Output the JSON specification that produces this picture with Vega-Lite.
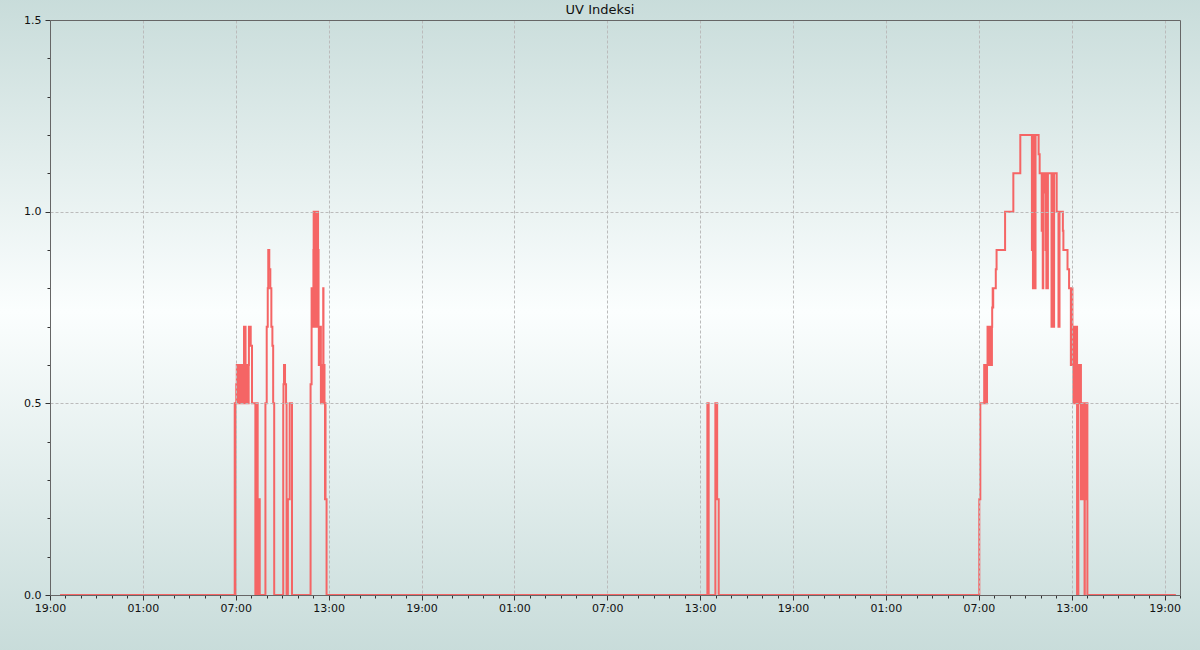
{
  "$schema": "https://vega.github.io/schema/vega-lite/v6.json",
  "width": 1130,
  "height": 575,
  "autosize": {"type": "none"},
  "padding": {"left": 50, "top": 20, "right": 20, "bottom": 55},
  "background": "#d9e6e5",
  "title": {"text": "UV Indeksi", "fontSize": 13, "font": "DejaVu Sans", "fontWeight": "normal", "color": "#111", "offset": -20, "dx": -15},
  "config": {
    "view": {"stroke": null},
    "axis": {"domain": true, "domainColor": "#666", "domainWidth": 1, "labelFont": "DejaVu Sans", "labelFontSize": 11, "labelColor": "#111", "tickColor": "#333", "gridColor": "#bbbbbb", "gridDash": [3, 2], "labelOverlap": false, "labelFlush": false}
  },
  "resolve": {"axis": {"x": "independent", "y": "independent"}},
  "layer": [
    {
      "data": {"values": [{"bg": 1}]},
      "mark": {"type": "rect", "clip": false, "fill": {"gradient": "linear", "x1": 0, "y1": 0, "x2": 0, "y2": 1, "stops": [{"offset": 0, "color": "#c8dcda"}, {"offset": 0.48, "color": "#fbfefe"}, {"offset": 1, "color": "#c8dcda"}]}},
      "encoding": {
        "x": {"datum": 1704123600000, "type": "temporal",
          "scale": {"type": "utc", "domain": [1704135600000, 1704398400000]},
          "axis": {"orient": "top", "title": null, "labels": false, "ticks": false, "grid": false, "zindex": 2}},
        "x2": {"datum": 1704403800000},
        "y": {"datum": 1.56, "type": "quantitative", "scale": {"domain": [0, 1.5], "nice": false, "zero": false},
          "axis": {"orient": "right", "title": null, "labels": false, "ticks": false, "grid": false, "zindex": 2}},
        "y2": {"datum": -0.15}
      }
    },
    {
      "data": {
        "format": {"parse": {"t": "utc:'%Y-%m-%d %H:%M'"}},
        "values": [
          {"t": "2024-01-01 19:39", "v": 0},
          {"t": "2024-01-02 06:56", "v": 0.5},
          {"t": "2024-01-02 06:58", "v": 0},
          {"t": "2024-01-02 06:59", "v": 0.5},
          {"t": "2024-01-02 07:02", "v": 0.55},
          {"t": "2024-01-02 07:03", "v": 0.5},
          {"t": "2024-01-02 07:04", "v": 0.6},
          {"t": "2024-01-02 07:05", "v": 0.5},
          {"t": "2024-01-02 07:06", "v": 0.55},
          {"t": "2024-01-02 07:07", "v": 0.6},
          {"t": "2024-01-02 07:08", "v": 0.5},
          {"t": "2024-01-02 07:10", "v": 0.6},
          {"t": "2024-01-02 07:11", "v": 0.5},
          {"t": "2024-01-02 07:13", "v": 0.6},
          {"t": "2024-01-02 07:14", "v": 0.5},
          {"t": "2024-01-02 07:16", "v": 0.6},
          {"t": "2024-01-02 07:17", "v": 0.5},
          {"t": "2024-01-02 07:19", "v": 0.6},
          {"t": "2024-01-02 07:20", "v": 0.5},
          {"t": "2024-01-02 07:22", "v": 0.6},
          {"t": "2024-01-02 07:25", "v": 0.5},
          {"t": "2024-01-02 07:26", "v": 0.6},
          {"t": "2024-01-02 07:28", "v": 0.5},
          {"t": "2024-01-02 07:29", "v": 0.6},
          {"t": "2024-01-02 07:31", "v": 0.5},
          {"t": "2024-01-02 07:32", "v": 0.7},
          {"t": "2024-01-02 07:38", "v": 0.6},
          {"t": "2024-01-02 07:39", "v": 0.5},
          {"t": "2024-01-02 07:41", "v": 0.6},
          {"t": "2024-01-02 07:42", "v": 0.5},
          {"t": "2024-01-02 07:44", "v": 0.6},
          {"t": "2024-01-02 07:45", "v": 0.5},
          {"t": "2024-01-02 07:47", "v": 0.6},
          {"t": "2024-01-02 07:48", "v": 0.5},
          {"t": "2024-01-02 07:50", "v": 0.6},
          {"t": "2024-01-02 07:51", "v": 0.7},
          {"t": "2024-01-02 07:58", "v": 0.65},
          {"t": "2024-01-02 08:03", "v": 0.5},
          {"t": "2024-01-02 08:16", "v": 0},
          {"t": "2024-01-02 08:18", "v": 0.5},
          {"t": "2024-01-02 08:19", "v": 0},
          {"t": "2024-01-02 08:21", "v": 0.5},
          {"t": "2024-01-02 08:22", "v": 0},
          {"t": "2024-01-02 08:24", "v": 0.5},
          {"t": "2024-01-02 08:25", "v": 0},
          {"t": "2024-01-02 08:29", "v": 0.25},
          {"t": "2024-01-02 08:33", "v": 0},
          {"t": "2024-01-02 08:55", "v": 0.5},
          {"t": "2024-01-02 09:00", "v": 0.7},
          {"t": "2024-01-02 09:04", "v": 0.8},
          {"t": "2024-01-02 09:06", "v": 0.9},
          {"t": "2024-01-02 09:10", "v": 0.85},
          {"t": "2024-01-02 09:14", "v": 0.8},
          {"t": "2024-01-02 09:18", "v": 0.7},
          {"t": "2024-01-02 09:22", "v": 0.65},
          {"t": "2024-01-02 09:25", "v": 0.5},
          {"t": "2024-01-02 09:29", "v": 0},
          {"t": "2024-01-02 10:04", "v": 0.5},
          {"t": "2024-01-02 10:05", "v": 0.55},
          {"t": "2024-01-02 10:07", "v": 0.6},
          {"t": "2024-01-02 10:11", "v": 0.55},
          {"t": "2024-01-02 10:15", "v": 0.5},
          {"t": "2024-01-02 10:17", "v": 0},
          {"t": "2024-01-02 10:22", "v": 0.25},
          {"t": "2024-01-02 10:29", "v": 0.5},
          {"t": "2024-01-02 10:38", "v": 0},
          {"t": "2024-01-02 11:50", "v": 0.55},
          {"t": "2024-01-02 11:54", "v": 0.8},
          {"t": "2024-01-02 11:55", "v": 0.7},
          {"t": "2024-01-02 11:56", "v": 0.8},
          {"t": "2024-01-02 11:57", "v": 0.7},
          {"t": "2024-01-02 11:58", "v": 0.8},
          {"t": "2024-01-02 11:59", "v": 0.7},
          {"t": "2024-01-02 12:00", "v": 0.8},
          {"t": "2024-01-02 12:01", "v": 0.9},
          {"t": "2024-01-02 12:02", "v": 1.0},
          {"t": "2024-01-02 12:03", "v": 0.7},
          {"t": "2024-01-02 12:04", "v": 1.0},
          {"t": "2024-01-02 12:05", "v": 0.8},
          {"t": "2024-01-02 12:06", "v": 1.0},
          {"t": "2024-01-02 12:07", "v": 0.7},
          {"t": "2024-01-02 12:08", "v": 1.0},
          {"t": "2024-01-02 12:09", "v": 0.9},
          {"t": "2024-01-02 12:10", "v": 1.0},
          {"t": "2024-01-02 12:11", "v": 0.7},
          {"t": "2024-01-02 12:12", "v": 1.0},
          {"t": "2024-01-02 12:13", "v": 0.8},
          {"t": "2024-01-02 12:14", "v": 1.0},
          {"t": "2024-01-02 12:15", "v": 0.7},
          {"t": "2024-01-02 12:16", "v": 1.0},
          {"t": "2024-01-02 12:17", "v": 0.9},
          {"t": "2024-01-02 12:18", "v": 1.0},
          {"t": "2024-01-02 12:19", "v": 0.9},
          {"t": "2024-01-02 12:21", "v": 0.7},
          {"t": "2024-01-02 12:22", "v": 0.6},
          {"t": "2024-01-02 12:23", "v": 0.7},
          {"t": "2024-01-02 12:24", "v": 0.6},
          {"t": "2024-01-02 12:25", "v": 0.7},
          {"t": "2024-01-02 12:26", "v": 0.6},
          {"t": "2024-01-02 12:27", "v": 0.7},
          {"t": "2024-01-02 12:28", "v": 0.6},
          {"t": "2024-01-02 12:29", "v": 0.7},
          {"t": "2024-01-02 12:30", "v": 0.5},
          {"t": "2024-01-02 12:31", "v": 0.6},
          {"t": "2024-01-02 12:32", "v": 0.5},
          {"t": "2024-01-02 12:33", "v": 0.6},
          {"t": "2024-01-02 12:34", "v": 0.5},
          {"t": "2024-01-02 12:35", "v": 0.6},
          {"t": "2024-01-02 12:36", "v": 0.5},
          {"t": "2024-01-02 12:37", "v": 0.6},
          {"t": "2024-01-02 12:39", "v": 0.8},
          {"t": "2024-01-02 12:40", "v": 0.5},
          {"t": "2024-01-02 12:41", "v": 0.6},
          {"t": "2024-01-02 12:42", "v": 0.5},
          {"t": "2024-01-02 12:43", "v": 0.6},
          {"t": "2024-01-02 12:44", "v": 0.5},
          {"t": "2024-01-02 12:46", "v": 0.25},
          {"t": "2024-01-02 12:47", "v": 0.5},
          {"t": "2024-01-02 12:48", "v": 0.25},
          {"t": "2024-01-02 12:52", "v": 0},
          {"t": "2024-01-03 13:28", "v": 0.5},
          {"t": "2024-01-03 13:33", "v": 0},
          {"t": "2024-01-03 13:59", "v": 0.5},
          {"t": "2024-01-03 14:06", "v": 0.25},
          {"t": "2024-01-03 14:12", "v": 0},
          {"t": "2024-01-04 07:02", "v": 0.25},
          {"t": "2024-01-04 07:06", "v": 0.5},
          {"t": "2024-01-04 07:21", "v": 0.6},
          {"t": "2024-01-04 07:22", "v": 0.5},
          {"t": "2024-01-04 07:23", "v": 0.6},
          {"t": "2024-01-04 07:25", "v": 0.5},
          {"t": "2024-01-04 07:26", "v": 0.6},
          {"t": "2024-01-04 07:28", "v": 0.5},
          {"t": "2024-01-04 07:29", "v": 0.6},
          {"t": "2024-01-04 07:31", "v": 0.5},
          {"t": "2024-01-04 07:32", "v": 0.6},
          {"t": "2024-01-04 07:34", "v": 0.7},
          {"t": "2024-01-04 07:35", "v": 0.6},
          {"t": "2024-01-04 07:37", "v": 0.7},
          {"t": "2024-01-04 07:38", "v": 0.6},
          {"t": "2024-01-04 07:40", "v": 0.7},
          {"t": "2024-01-04 07:41", "v": 0.6},
          {"t": "2024-01-04 07:43", "v": 0.7},
          {"t": "2024-01-04 07:44", "v": 0.6},
          {"t": "2024-01-04 07:46", "v": 0.7},
          {"t": "2024-01-04 07:47", "v": 0.6},
          {"t": "2024-01-04 07:49", "v": 0.7},
          {"t": "2024-01-04 07:50", "v": 0.6},
          {"t": "2024-01-04 07:51", "v": 0.7},
          {"t": "2024-01-04 07:52", "v": 0.75},
          {"t": "2024-01-04 07:54", "v": 0.8},
          {"t": "2024-01-04 07:55", "v": 0.75},
          {"t": "2024-01-04 07:56", "v": 0.8},
          {"t": "2024-01-04 08:06", "v": 0.85},
          {"t": "2024-01-04 08:09", "v": 0.9},
          {"t": "2024-01-04 08:42", "v": 1.0},
          {"t": "2024-01-04 09:14", "v": 1.1},
          {"t": "2024-01-04 09:41", "v": 1.2},
          {"t": "2024-01-04 10:26", "v": 0.9},
          {"t": "2024-01-04 10:28", "v": 1.2},
          {"t": "2024-01-04 10:30", "v": 0.8},
          {"t": "2024-01-04 10:32", "v": 1.2},
          {"t": "2024-01-04 10:34", "v": 0.8},
          {"t": "2024-01-04 10:36", "v": 1.2},
          {"t": "2024-01-04 10:38", "v": 0.8},
          {"t": "2024-01-04 10:40", "v": 1.2},
          {"t": "2024-01-04 10:52", "v": 1.15},
          {"t": "2024-01-04 10:56", "v": 1.1},
          {"t": "2024-01-04 11:04", "v": 0.95},
          {"t": "2024-01-04 11:05", "v": 1.1},
          {"t": "2024-01-04 11:08", "v": 0.8},
          {"t": "2024-01-04 11:10", "v": 1.1},
          {"t": "2024-01-04 11:16", "v": 1.05},
          {"t": "2024-01-04 11:18", "v": 1.1},
          {"t": "2024-01-04 11:19", "v": 0.9},
          {"t": "2024-01-04 11:20", "v": 1.1},
          {"t": "2024-01-04 11:22", "v": 0.8},
          {"t": "2024-01-04 11:24", "v": 1.1},
          {"t": "2024-01-04 11:26", "v": 0.8},
          {"t": "2024-01-04 11:28", "v": 1.1},
          {"t": "2024-01-04 11:42", "v": 0.7},
          {"t": "2024-01-04 11:44", "v": 1.1},
          {"t": "2024-01-04 11:46", "v": 0.7},
          {"t": "2024-01-04 11:48", "v": 1.1},
          {"t": "2024-01-04 11:50", "v": 0.7},
          {"t": "2024-01-04 11:52", "v": 1.1},
          {"t": "2024-01-04 12:02", "v": 1.0},
          {"t": "2024-01-04 12:09", "v": 0.7},
          {"t": "2024-01-04 12:13", "v": 1.0},
          {"t": "2024-01-04 12:26", "v": 0.95},
          {"t": "2024-01-04 12:28", "v": 0.9},
          {"t": "2024-01-04 12:44", "v": 0.85},
          {"t": "2024-01-04 12:50", "v": 0.8},
          {"t": "2024-01-04 12:57", "v": 0.6},
          {"t": "2024-01-04 12:59", "v": 0.8},
          {"t": "2024-01-04 13:03", "v": 0.6},
          {"t": "2024-01-04 13:05", "v": 0.7},
          {"t": "2024-01-04 13:07", "v": 0.5},
          {"t": "2024-01-04 13:09", "v": 0.7},
          {"t": "2024-01-04 13:11", "v": 0.55},
          {"t": "2024-01-04 13:13", "v": 0.7},
          {"t": "2024-01-04 13:16", "v": 0.5},
          {"t": "2024-01-04 13:18", "v": 0.7},
          {"t": "2024-01-04 13:21", "v": 0},
          {"t": "2024-01-04 13:26", "v": 0.6},
          {"t": "2024-01-04 13:28", "v": 0.5},
          {"t": "2024-01-04 13:30", "v": 0.6},
          {"t": "2024-01-04 13:32", "v": 0.5},
          {"t": "2024-01-04 13:34", "v": 0.6},
          {"t": "2024-01-04 13:36", "v": 0.25},
          {"t": "2024-01-04 13:38", "v": 0.5},
          {"t": "2024-01-04 13:40", "v": 0.25},
          {"t": "2024-01-04 13:42", "v": 0.5},
          {"t": "2024-01-04 13:46", "v": 0.25},
          {"t": "2024-01-04 13:47", "v": 0.5},
          {"t": "2024-01-04 13:50", "v": 0},
          {"t": "2024-01-04 13:51", "v": 0.5},
          {"t": "2024-01-04 13:55", "v": 0.25},
          {"t": "2024-01-04 13:57", "v": 0.5},
          {"t": "2024-01-04 14:01", "v": 0},
          {"t": "2024-01-04 19:44", "v": 0}
        ]
      },
      "mark": {"type": "line", "interpolate": "step-after", "color": "#f56565", "strokeWidth": 2},
      "encoding": {
        "x": {"field": "t", "type": "temporal",
          "scale": {"type": "utc", "domain": [1704135600000, 1704398400000]},
          "axis": {"orient": "bottom", "zindex": 1, "title": null, "tickCount": 73, "grid": true, "labelExpr": "utchours(datum.value) % 6 == 1 ? utcFormat(datum.value, '%H:%M') : ''", "gridOpacity": {"condition": {"test": "utchours(datum.value) % 6 == 1", "value": 1}, "value": 0}, "tickSize": {"condition": {"test": "utchours(datum.value) % 6 == 1", "value": 5}, "value": 3}, "labelPadding": 2}},
        "y": {"field": "v", "type": "quantitative", "scale": {"domain": [0, 1.5], "nice": false, "zero": false},
          "axis": {"orient": "left", "zindex": 1, "title": null, "values": [0, 0.1, 0.2, 0.3, 0.4, 0.5, 0.6, 0.7, 0.8, 0.9, 1.0, 1.1, 1.2, 1.3, 1.4, 1.5], "grid": true, "labelExpr": "round(datum.value*10) % 5 == 0 ? format(datum.value, '.1f') : ''", "gridOpacity": {"condition": {"test": "round(datum.value*10) % 5 == 0", "value": 1}, "value": 0}, "tickSize": {"condition": {"test": "round(datum.value*10) % 5 == 0", "value": 5}, "value": 3}, "labelPadding": 4}}
      }
    }
  ]
}
